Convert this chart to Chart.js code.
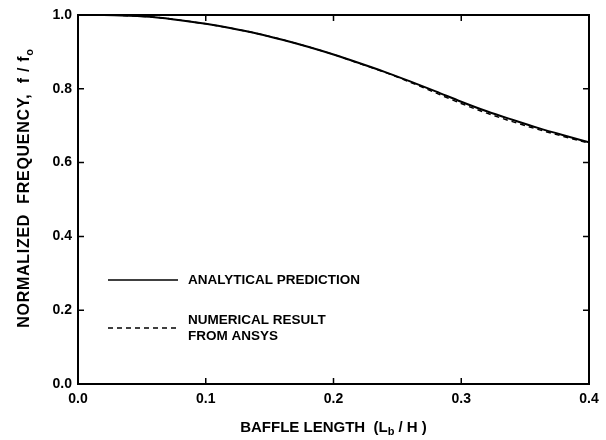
<!DOCTYPE html>
<html>
<head>
<meta charset="utf-8">
<script src="https://cdn.jsdelivr.net/npm/chart.js@4.4.1/dist/chart.umd.min.js"></script>
<style>
  html, body { margin: 0; padding: 0; background: #fff; }
  #wrap { width: 606px; height: 440px; }
</style>
</head>
<body>
<div id="wrap"><canvas id="chart" width="606" height="440"></canvas></div>
<script>
// data
const baffleLength = [0, 0.02, 0.04, 0.06, 0.08, 0.10, 0.12, 0.14, 0.16, 0.18, 0.20, 0.22, 0.24, 0.26, 0.28, 0.30, 0.32, 0.34, 0.36, 0.38, 0.40]
const analytical = [1.0, 1.0, 0.998, 0.994, 0.986, 0.976, 0.964, 0.950, 0.933, 0.914, 0.893, 0.870, 0.846, 0.820, 0.793, 0.765, 0.739, 0.716, 0.694, 0.674, 0.655]
const numerical = [1.0, 1.0, 0.998, 0.994, 0.986, 0.976, 0.964, 0.950, 0.933, 0.914, 0.893, 0.869, 0.845, 0.818, 0.789, 0.760, 0.734, 0.711, 0.690, 0.671, 0.653]
const xTicks = [0, 0.1, 0.2, 0.3, 0.4]
const yTicks = [0, 0.2, 0.4, 0.6, 0.8, 1.0]
const legendLabels = [['ANALYTICAL PREDICTION'], ['NUMERICAL RESULT', 'FROM ANSYS']]

const FONT = '"Liberation Sans", Arial, sans-serif'

// frame, inward ticks, titles and the in-plot legend
const framePlugin = {
  id: 'frame',
  afterDraw(chart) {
    const ctx = chart.ctx
    const a = chart.chartArea
    const xs = chart.scales.x
    const ys = chart.scales.y
    ctx.save()
    ctx.strokeStyle = '#000'
    ctx.lineWidth = 2
    ctx.strokeRect(a.left, a.top, a.right - a.left, a.bottom - a.top)

    ctx.lineWidth = 1.5
    const t = 6
    ctx.beginPath()
    xTicks.forEach(v => {
      const px = xs.getPixelForValue(v)
      ctx.moveTo(px, a.bottom); ctx.lineTo(px, a.bottom - t)
      ctx.moveTo(px, a.top); ctx.lineTo(px, a.top + t)
    })
    yTicks.forEach(v => {
      const py = ys.getPixelForValue(v)
      ctx.moveTo(a.left, py); ctx.lineTo(a.left + t, py)
      ctx.moveTo(a.right, py); ctx.lineTo(a.right - t, py)
    })
    ctx.stroke()

    // x title with subscript
    ctx.fillStyle = '#000'
    ctx.textBaseline = 'middle'
    ctx.textAlign = 'left'
    ctx.font = 'bold 15px ' + FONT
    const p1 = 'BAFFLE LENGTH  (L', p2 = 'b', p3 = ' / H )'
    const w1 = ctx.measureText(p1).width
    const w3 = ctx.measureText(p3).width
    ctx.font = 'bold 11px ' + FONT
    const w2 = ctx.measureText(p2).width
    const x0 = (a.left + a.right) / 2 - (w1 + w2 + w3) / 2
    const ty = 428
    ctx.font = 'bold 15px ' + FONT
    ctx.fillText(p1, x0, ty)
    ctx.font = 'bold 11px ' + FONT
    ctx.fillText(p2, x0 + w1, ty + 4)
    ctx.font = 'bold 15px ' + FONT
    ctx.fillText(p3, x0 + w1 + w2, ty)

    // y title with subscript
    ctx.save()
    ctx.translate(25, 188)
    ctx.rotate(-Math.PI / 2)
    ctx.letterSpacing = '0.7px'
    const q1 = 'NORMALIZED  FREQUENCY,  f / f', q2 = 'o'
    ctx.font = 'bold 16px ' + FONT
    const v1 = ctx.measureText(q1).width
    ctx.font = 'bold 11px ' + FONT
    const v2 = ctx.measureText(q2).width
    const y0 = -(v1 + v2) / 2
    ctx.font = 'bold 16px ' + FONT
    ctx.fillText(q1, y0, 0)
    ctx.font = 'bold 11px ' + FONT
    ctx.fillText(q2, y0 + v1, 5)
    ctx.restore()

    // legend inside the plot
    const rows = [280, 328]
    chart.data.datasets.forEach((ds, i) => {
      ctx.beginPath()
      ctx.lineWidth = 1.5
      ctx.setLineDash(ds.borderDash || [])
      ctx.moveTo(108, rows[i]); ctx.lineTo(178, rows[i])
      ctx.stroke()
      ctx.setLineDash([])
      ctx.font = 'bold 13.5px ' + FONT
      const lines = legendLabels[i]
      lines.forEach((s, k) => {
        const yy = rows[i] + (k - (lines.length - 1) / 2) * 16
        ctx.fillText(s, 188, yy)
      })
    })
    ctx.restore()
  },
}

new Chart(document.getElementById('chart'), {
  type: 'line',
  data: {
    datasets: [
      {
        label: 'ANALYTICAL PREDICTION',
        data: baffleLength.map((x, i) => ({ x: x, y: analytical[i] })),
        borderColor: '#000',
        borderWidth: 2,
        pointRadius: 0,
        cubicInterpolationMode: 'monotone',
      },
      {
        label: 'NUMERICAL RESULT FROM ANSYS',
        data: baffleLength.map((x, i) => ({ x: x, y: numerical[i] })),
        borderColor: '#000',
        borderWidth: 1.5,
        borderDash: [5, 4],
        pointRadius: 0,
        cubicInterpolationMode: 'monotone',
      },
    ],
  },
  options: {
    responsive: false,
    animation: false,
    events: [],
    layout: { padding: { top: 15, right: 17, left: 0, bottom: 0 } },
    plugins: { legend: { display: false }, tooltip: { enabled: false } },
    scales: {
      x: {
        type: 'linear',
        min: 0,
        max: 0.4,
        afterFit: s => { s.height = 56 },
        afterBuildTicks: s => { s.ticks = xTicks.map(v => ({ value: v })) },
        grid: { display: false, drawTicks: false },
        border: { display: false },
        ticks: {
          padding: 7,
          color: '#000',
          font: { family: FONT, size: 14, weight: 'bold' },
          callback: v => v.toFixed(1),
        },
      },
      y: {
        min: 0,
        max: 1,
        afterFit: s => { s.width = 78 },
        afterBuildTicks: s => { s.ticks = yTicks.map(v => ({ value: v })) },
        grid: { display: false, drawTicks: false },
        border: { display: false },
        ticks: {
          padding: 6,
          color: '#000',
          font: { family: FONT, size: 14, weight: 'bold' },
          callback: v => v.toFixed(1),
        },
      },
    },
  },
  plugins: [framePlugin],
})
</script>
</body>
</html>
